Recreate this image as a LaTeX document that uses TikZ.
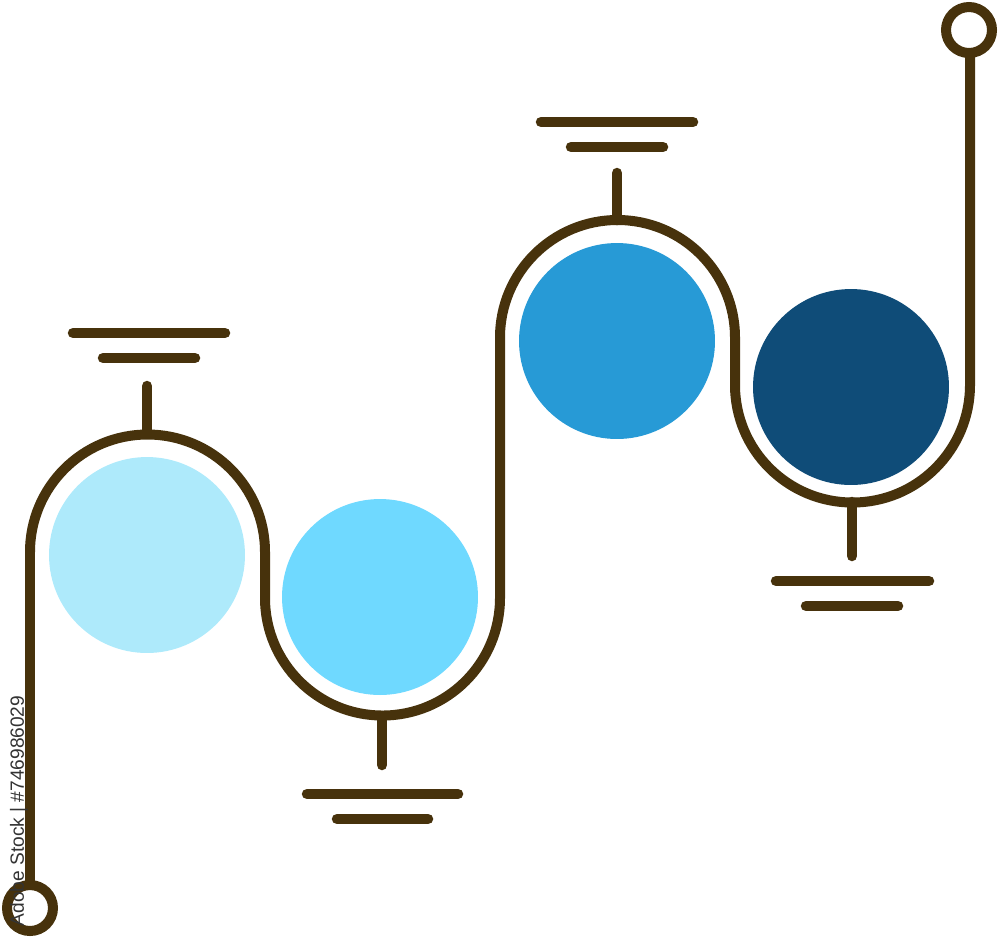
\documentclass[tikz,border=0pt]{standalone}
\usepackage{fontspec}
\setmainfont{Liberation Sans}
\definecolor{brn}{HTML}{47320C}
\definecolor{cA}{HTML}{AEEAFB}
\definecolor{cB}{HTML}{6FD9FF}
\definecolor{cC}{HTML}{279AD6}
\definecolor{cD}{HTML}{0F4C78}
\begin{document}
\begin{tikzpicture}[x=0.02cm,y=-0.02cm,
  wire/.style={draw=brn,line width=0.2cm},
  bar/.style={draw=brn,line width=0.21cm,line cap=round},
  ring/.style={circle,draw=brn,line width=0.2cm,fill=white,minimum size=0.92cm,inner sep=0pt,outer sep=0pt},
  disc/.style={circle,minimum size=3.92cm,inner sep=0pt}]
\useasboundingbox (0,0) rectangle (1000,938);
% filled discs
\node[disc,fill=cA] (d1) at (147,555) {};
\node[disc,fill=cB] (d2) at (380,597) {};
\node[disc,fill=cC] (d3) at (617,341) {};
\node[disc,fill=cD] (d4) at (851,387) {};
% wire
\coordinate (a1) at (30,552);
\coordinate (a2) at (265,598);
\coordinate (a3) at (500,337.5);
\coordinate (a4) at (735,385);
\draw[wire] (30,885) -- (a1) arc[start angle=180,end angle=360,radius=117.5]
  -- (a2) arc[start angle=180,end angle=0,radius=117.5]
  -- (a3) arc[start angle=180,end angle=360,radius=117.5]
  -- (a4) arc[start angle=180,end angle=0,radius=117.5]
  -- (970,53);
\node[ring] (bl) at (30,908) {};
\node[ring] (tr) at (969,30) {};
% stubs and bars
\draw[bar] (147,386) -- (147,432);
\draw[bar] (73,333) -- (225,333);
\draw[bar] (103,358) -- (195,358);
\draw[bar] (617,173) -- (617,220);
\draw[bar] (541,122) -- (693,122);
\draw[bar] (571,147) -- (663,147);
\draw[bar] (382,716) -- (382,765);
\draw[bar] (307,794) -- (458,794);
\draw[bar] (337,819) -- (428,819);
\draw[bar] (852,502) -- (852,556);
\draw[bar] (776,581) -- (929,581);
\draw[bar] (806,606) -- (898,606);
% watermark label
\node[rotate=90,text=black!80,font=\fontsize{10.9}{13}\selectfont,inner sep=0pt] (wm) at (19,811) {Adobe Stock | \#746986029};
\end{tikzpicture}
\end{document}
